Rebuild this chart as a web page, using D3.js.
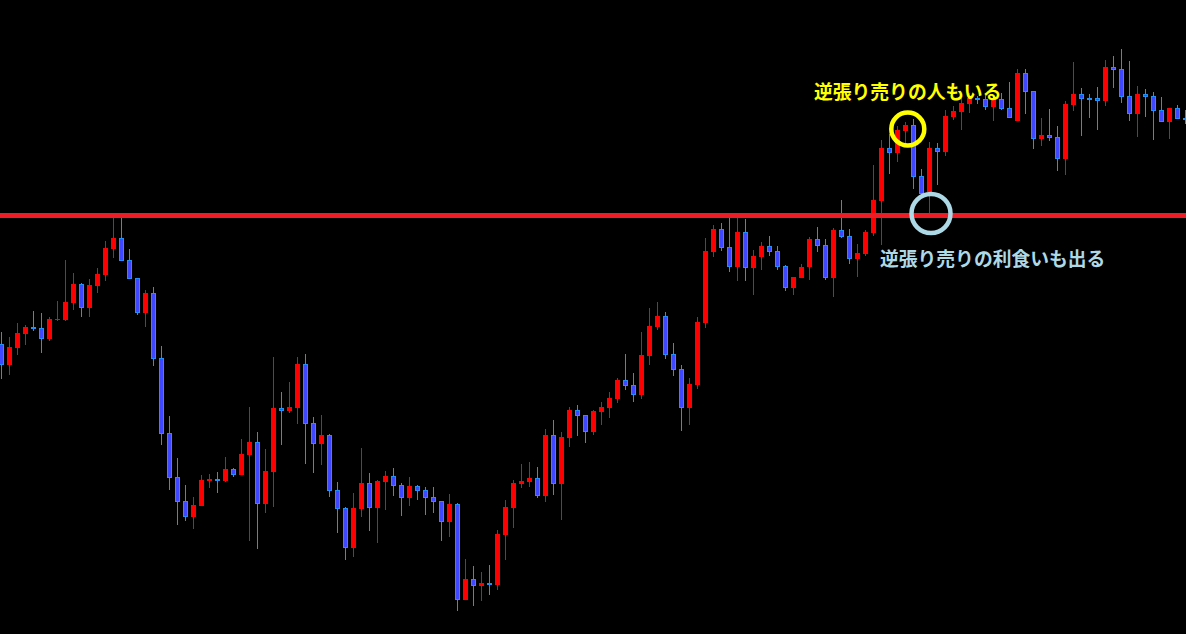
<!DOCTYPE html>
<html>
<head>
<meta charset="utf-8">
<script src="https://cdn.jsdelivr.net/npm/d3@7"></script>
<style>
html,body{margin:0;padding:0;background:#000;}
svg{display:block;}
</style>
</head>
<body>
<svg id="chart" width="1186" height="634"></svg>
<script>
const opens = [106.56,106.35,106.52,106.66,106.73,106.72,106.61,106.80,106.80,106.97,107.16,106.92,107.14,107.25,107.51,107.62,107.40,107.22,106.87,107.07,106.42,105.67,105.23,104.99,104.83,104.94,105.19,105.21,105.19,105.31,105.25,105.45,105.58,104.96,105.28,105.92,105.89,105.92,106.36,105.77,105.56,105.65,105.10,104.92,104.52,104.91,105.17,104.92,105.18,105.24,105.15,105.02,105.14,105.10,105.03,104.99,104.78,104.96,104.00,104.21,104.14,104.17,104.15,104.65,104.92,105.16,105.18,105.22,105.04,105.65,105.16,105.62,105.90,105.85,105.68,105.88,105.92,106.01,106.20,106.15,106.05,106.44,106.73,106.84,106.46,106.31,105.92,106.15,106.77,107.48,107.71,107.53,107.33,107.68,107.32,107.43,107.54,107.49,107.34,107.12,107.22,107.33,107.61,107.55,107.22,107.70,107.64,107.41,107.46,107.67,107.99,108.52,108.47,108.69,108.75,108.24,108.08,108.52,108.48,108.83,108.88,108.96,109.02,109.01,108.93,109.01,108.92,108.79,109.27,109.09,108.61,108.65,108.63,108.41,108.95,109.06,109.02,109.02,108.99,109.33,109.31,109.04,108.86,109.06,109.04,108.90,108.78,108.92,108.82];
const highs = [106.68,106.63,106.77,106.75,106.89,106.87,106.83,106.99,107.40,107.27,107.17,107.21,107.32,107.59,107.82,107.82,107.51,107.22,107.10,107.13,106.54,105.84,105.42,105.15,105.03,105.25,105.26,105.28,105.43,105.32,105.61,105.93,105.68,105.51,106.43,106.08,106.18,106.43,106.46,105.83,105.85,105.66,105.18,104.93,105.07,105.52,105.27,105.20,105.29,105.32,105.17,105.23,105.15,105.13,105.13,104.99,105.06,104.97,104.41,104.34,104.28,104.35,104.70,105.00,105.20,105.36,105.38,105.33,105.71,105.80,105.68,105.93,105.95,105.85,105.90,105.98,106.08,106.22,106.46,106.27,106.68,106.92,106.98,106.88,106.57,106.35,106.22,106.83,107.62,107.75,107.77,107.82,107.82,107.81,107.50,107.58,107.64,107.54,107.35,107.23,107.36,107.63,107.73,107.61,107.72,108.00,107.71,107.56,107.70,108.35,108.60,108.66,108.74,108.78,108.81,108.31,108.58,108.57,108.90,108.94,109.02,109.07,109.04,109.05,109.05,109.07,109.18,109.31,109.31,109.09,108.82,108.91,108.74,108.99,109.38,109.12,109.06,109.13,109.40,109.44,109.51,109.39,109.14,109.11,109.08,109.03,108.92,108.95,108.90];
const lows = [106.21,106.25,106.45,106.55,106.69,106.47,106.59,106.79,106.79,106.90,106.83,106.83,107.07,107.19,107.42,107.39,107.21,106.85,106.73,106.34,105.55,105.10,104.75,104.79,104.71,104.94,105.12,105.07,105.18,105.23,105.25,104.59,104.51,104.87,104.93,105.55,105.87,105.76,105.36,105.27,105.35,105.03,104.67,104.40,104.43,104.83,104.69,104.57,104.90,105.04,104.84,104.94,105.00,104.85,104.87,104.59,104.63,103.89,104.00,103.94,103.99,104.05,104.10,104.40,104.72,105.12,105.13,105.02,104.98,105.05,104.80,105.53,105.64,105.57,105.65,105.75,105.82,105.97,106.10,105.98,106.01,106.35,106.70,106.41,106.24,105.69,105.75,106.11,106.72,107.43,107.49,107.28,107.19,107.19,107.05,107.30,107.44,107.30,107.09,107.05,107.22,107.20,107.48,107.20,107.03,107.62,107.36,107.23,107.44,107.64,107.55,108.26,108.38,108.56,108.11,108.06,107.86,108.15,108.44,108.80,108.70,108.87,108.96,108.90,108.79,108.90,108.82,108.79,108.86,108.51,108.54,108.59,108.29,108.25,108.89,108.64,108.82,108.70,108.94,109.12,108.97,108.79,108.63,108.83,108.60,108.78,108.61,108.81,108.76];
const closes = [106.35,106.53,106.67,106.73,106.72,106.61,106.81,106.81,106.98,107.16,106.92,107.15,107.26,107.52,107.62,107.39,107.21,106.87,107.07,106.41,105.66,105.22,104.98,104.83,104.95,105.20,105.21,105.19,105.31,105.25,105.46,105.58,104.96,105.29,105.92,105.89,105.93,106.36,105.76,105.56,105.65,105.09,104.91,104.52,104.92,105.17,104.92,105.19,105.24,105.14,105.02,105.14,105.09,105.02,104.98,104.78,104.96,104.00,104.21,104.14,104.17,104.15,104.66,104.93,105.17,105.19,105.22,105.04,105.65,105.16,105.63,105.90,105.84,105.68,105.89,105.93,106.02,106.20,106.14,106.05,106.45,106.74,106.84,106.45,106.30,105.92,106.16,106.78,107.49,107.71,107.52,107.33,107.68,107.32,107.44,107.54,107.48,107.33,107.12,107.23,107.33,107.61,107.54,107.22,107.70,107.63,107.41,107.47,107.68,108.00,108.52,108.47,108.70,108.75,108.23,108.06,108.52,108.48,108.84,108.89,108.97,109.02,109.00,108.93,109.02,108.91,108.82,109.27,109.08,108.61,108.65,108.62,108.41,108.96,109.06,109.01,109.01,108.99,109.33,109.30,109.03,108.86,109.06,109.03,108.89,108.78,108.92,108.81,108.81];
const resistanceLevel = 107.845;
const annotations = [
  {text: "逆張り売りの人もいる", bar: 113, price: 109.10, color: "#ffff00"},
  {text: "逆張り売りの利食いも出る", bar: 116, price: 107.43, color: "#add8e6"}
];
const circleMarks = [
  {bar: 113, price: 108.71, color: "#ffff00"},
  {bar: 116, price: 107.865, color: "#add8e6"}
];

const W = 1186, H = 634;
const svg = d3.select("#chart");
svg.append("rect").attr("width", W).attr("height", H).attr("fill", "#000");

const idx = d3.range(opens.length);
const x = d3.scaleBand().domain(idx).range([-2.5, -2.5 + 8 * opens.length]);
const cx = i => x(i) + x.bandwidth() / 2;
const y = d3.scaleLinear().domain([103.66, 110]).range([H, 0]);

const RED = "#ff0000", BLUE_FILL = "#4048ff", BLUE_EDGE = "#1e90ff";
const g = svg.append("g");

idx.forEach(i => {
  const o = opens[i], c = closes[i], h = highs[i], l = lows[i];
  const up = c > o;
  const xc = Math.floor(cx(i));
  const yh = Math.round(y(h)), yl = Math.round(y(l));
  const yt = Math.round(y(Math.max(o, c))), yb = Math.round(y(Math.min(o, c)));
  g.append("rect").attr("x", xc).attr("y", yh).attr("width", 1)
    .attr("height", Math.max(1, yl - yh)).attr("fill", up ? RED : BLUE_EDGE);
  const bh = Math.max(1, yb - yt);
  if (up) {
    g.append("rect").attr("x", xc - 2).attr("y", yt).attr("width", 5)
      .attr("height", bh).attr("fill", RED);
  } else {
    g.append("rect").attr("x", xc - 2).attr("y", yt).attr("width", 5)
      .attr("height", Math.max(2, bh)).attr("fill", BLUE_EDGE);
    if (bh > 2) {
      g.append("rect").attr("x", xc - 1).attr("y", yt + 1).attr("width", 3)
        .attr("height", bh - 2).attr("fill", BLUE_FILL);
    }
  }
});

svg.append("line")
  .attr("x1", 0).attr("x2", W)
  .attr("y1", y(resistanceLevel)).attr("y2", y(resistanceLevel))
  .attr("stroke", "#ee1c25").attr("stroke-width", 5);

circleMarks.forEach((m, k) => {
  svg.append("circle")
    .attr("cx", cx(m.bar) + (k === 0 ? 2.3 : 1.5))
    .attr("cy", y(m.price))
    .attr("r", k === 0 ? 16.5 : 19.5)
    .attr("fill", "none")
    .attr("stroke", m.color)
    .attr("stroke-width", 4.5);
});

const textX = [814, 880];
annotations.forEach((a, k) => {
  svg.append("text")
    .attr("x", textX[k])
    .attr("y", y(a.price))
    .attr("dominant-baseline", "central")
    .attr("fill", a.color)
    .attr("font-family", "'Noto Sans CJK JP', 'Noto Sans', sans-serif")
    .attr("font-weight", "bold")
    .attr("font-size", 18.8)
    .text(a.text);
});
</script>
</body>
</html>
